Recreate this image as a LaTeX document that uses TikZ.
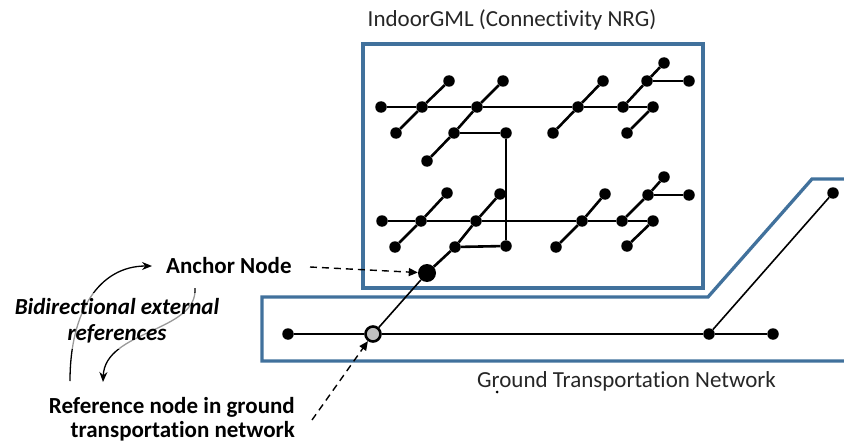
\documentclass[tikz,border=0pt]{standalone}
\usepackage{fontspec}
\setmainfont{Carlito}[Ligatures={NoCommon,NoRare}]
\usetikzlibrary{arrows.meta}
\definecolor{boxblue}{RGB}{65,113,156}
\begin{document}
\begin{tikzpicture}[x=1pt,y=-1pt,
  dot/.style={circle,fill=black,inner sep=0pt,minimum size=11.5pt},
  bigdot/.style={circle,fill=black,inner sep=0pt,minimum size=18pt},
  refdot/.style={circle,fill=black!25,draw=black,line width=2.6pt,inner sep=0pt,minimum size=15pt},
  nrg/.style={line width=2.6pt},
  gtn/.style={line width=1.6pt},
  frame/.style={draw=boxblue,line width=3.3pt,line join=miter},
  lbl/.style={font=\fontsize{23}{24.5}\selectfont\bfseries,inner sep=0pt},
  plain/.style={font=\fontsize{23}{26}\selectfont,inner sep=0pt,text=black!85},
  refarrow/.style={dash pattern=on 7pt off 5pt,line width=1.4pt,-{Triangle[length=9pt,width=8pt]}},
  curvearrow/.style={line width=1.3pt,-{Stealth[length=10pt,width=8pt]}},
  veil/.style={fill=white,fill opacity=0.6,text opacity=1}
]
\useasboundingbox (0,0) rectangle (844,444);
\clip (0,0) rectangle (844,444);

% frames
\draw[frame] (363,44) rectangle (703,288);
\draw[frame] (850,179) -- (812,179) -- (708,297) -- (262,297) -- (262,361) -- (850,361);

% titles
\node[plain,anchor=base] (title) at (512,27) {IndoorGML (Connectivity NRG)};
\node[plain,anchor=base west] (gtitle) at (477,387) {Ground Transportation Network};
\node[circle,fill=black,inner sep=0pt,minimum size=3pt] (speck) at (497,392) {};

% upper NRG
\node[dot] (u0) at (381,107) {};
\node[dot] (u1) at (422,107) {};
\node[dot] (u2) at (477,107) {};
\node[dot] (u3) at (578,107) {};
\node[dot] (u4) at (623,107) {};
\node[dot] (u5) at (653,107) {};
\node[dot] (u1t) at (449,81) {};
\node[dot] (u1b) at (396,133) {};
\node[dot] (u2t) at (503,81) {};
\node[dot] (u2b) at (454,133) {};
\node[dot] (u2bb) at (427,161) {};
\node[dot] (u2r) at (506,133) {};
\node[dot] (u3t) at (603,81) {};
\node[dot] (u3b) at (553,133) {};
\node[dot] (u4t) at (647,81) {};
\node[dot] (u4tt) at (664,63) {};
\node[dot] (u4r) at (689,81) {};
\node[dot] (u5b) at (627,133) {};

% lower NRG
\node[dot] (l0) at (382,221) {};
\node[dot] (l1) at (421,221) {};
\node[dot] (l2) at (476,221) {};
\node[dot] (l3) at (582,221) {};
\node[dot] (l4) at (622,221) {};
\node[dot] (l5) at (653,221) {};
\node[dot] (l1t) at (447,193) {};
\node[dot] (l1b) at (395,247) {};
\node[dot] (l2t) at (500,194) {};
\node[dot] (l2b) at (455,247) {};
\node[dot] (l2r) at (506,246) {};
\node[dot] (l3t) at (605,194) {};
\node[dot] (l3b) at (556,247) {};
\node[dot] (l4t) at (648,195) {};
\node[dot] (l4tt) at (664,177) {};
\node[dot] (l4r) at (689,195) {};
\node[dot] (l5b) at (627,246) {};
\node[bigdot] (anchor) at (427,273) {};

% ground network
\node[dot] (g0) at (288,334) {};
\node[refdot] (ref) at (373,334) {};
\node[dot] (g2) at (709,334) {};
\node[dot] (g3) at (773,334) {};
\node[dot] (g4) at (833,193) {};

% upper edges
\draw[nrg] (u0) -- (u1) -- (u2) -- (u3) -- (u4) -- (u5);
\draw[nrg] (u1b) -- (u1) -- (u1t);
\draw[nrg] (u2bb) -- (u2b) -- (u2) -- (u2t);
\draw[nrg] (u2b) -- (u2r);
\draw[nrg] (u3b) -- (u3) -- (u3t);
\draw[nrg] (u4) -- (u4t) -- (u4tt);
\draw[nrg] (u4t) -- (u4r);
\draw[nrg] (u5) -- (u5b);
\draw[nrg] (u2r) -- (l2r);

% lower edges
\draw[nrg] (l0) -- (l1) -- (l2) -- (l3) -- (l4) -- (l5);
\draw[nrg] (l1b) -- (l1) -- (l1t);
\draw[nrg] (anchor) -- (l2b) -- (l2) -- (l2t);
\draw[nrg] (l2b) -- (l2r);
\draw[nrg] (l3b) -- (l3) -- (l3t);
\draw[nrg] (l4) -- (l4t) -- (l4tt);
\draw[nrg] (l4t) -- (l4r);
\draw[nrg] (l5) -- (l5b);

% ground edges
\draw[gtn] (g0) -- (ref) -- (g2) -- (g3);
\draw[gtn] (g2) -- (g4);
\draw[gtn] (ref) -- (anchor);

% curved arrows
\coordinate (c1s) at (70,381);
\coordinate (c1e) at (152,266);
\coordinate (c2s) at (195,288);
\coordinate (c2e) at (103,382);
\draw[curvearrow] (c1s) .. controls (70,310) and (100,266) .. (c1e);
\draw[curvearrow] (c2s) .. controls (198,332) and (105,330) .. (c2e);

% labels
\node[lbl,anchor=base west] (anchorlbl) at (166,273) {Anchor Node};
\node[lbl,align=center,font=\fontsize{23}{26.5}\selectfont\bfseries\itshape,veil,inner sep=5pt] (bidi) at (117,321) {Bidirectional external\\references};
\node[lbl,align=right,anchor=east] (reflbl) at (295,419) {Reference node in ground\\transportation network};

% dashed reference arrows
\coordinate (antail) at (310,267);
\coordinate (reftail) at (312,420);
\draw[refarrow] (antail) -- (anchor);
\draw[refarrow] (reftail) -- (ref);
\end{tikzpicture}
\end{document}
